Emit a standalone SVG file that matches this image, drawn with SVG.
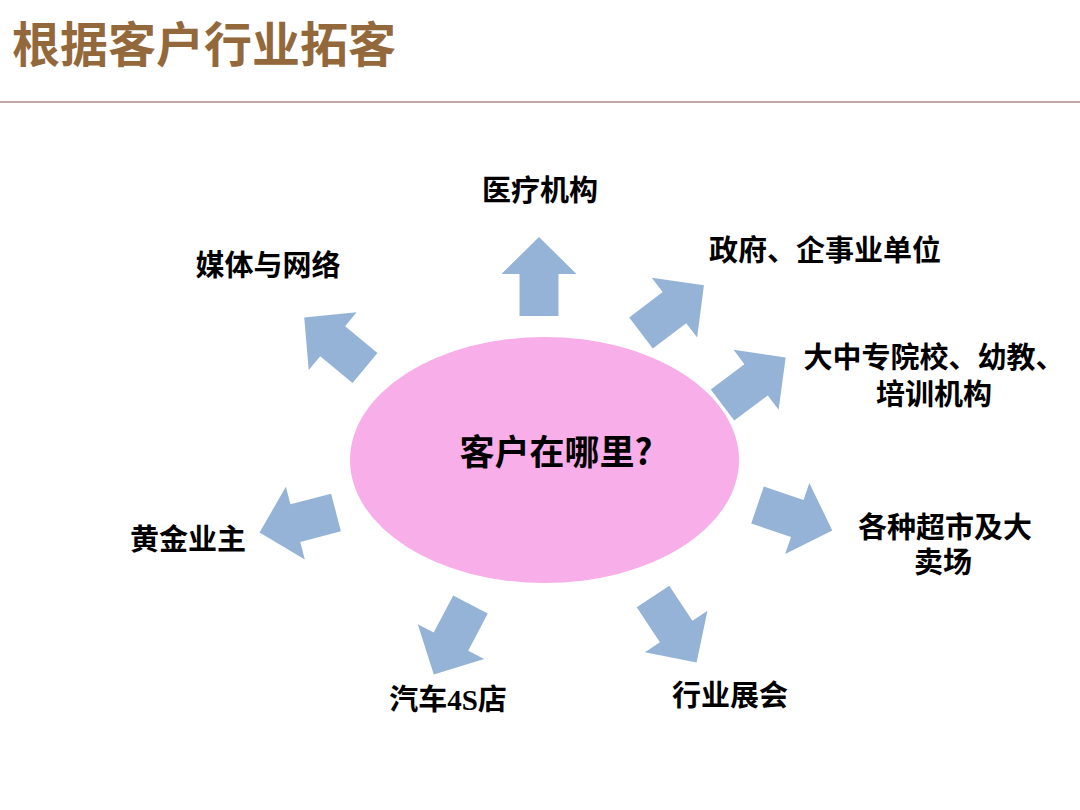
<svg xmlns="http://www.w3.org/2000/svg" xmlns:xlink="http://www.w3.org/1999/xlink" width="1080" height="810" viewBox="0 0 1080 810">
  <style>
    .lbl { font-family: "Liberation Sans", "Noto Sans CJK SC", sans-serif; font-weight: bold; font-size: 29px; fill: #000; }
    .lat { font-family: "Liberation Serif", serif; font-weight: bold; }
    .title { font-family: "Noto Sans CJK SC", "Noto Sans", sans-serif; font-weight: bold; font-size: 48px; fill: #93683A; }
    .center { font-family: "Liberation Sans", "Noto Sans CJK SC", sans-serif; font-weight: bold; font-size: 35px; fill: #000; }
    .cjk { font-family: "Noto Sans CJK SC", sans-serif; }
    .arr { fill: #95B3D7; }
  </style>
  <defs>
    <path id="arrow" d="M0,-19.5 H42 V-37.5 L79,0 L42,37.5 V19.5 H0 Z"/>
  </defs>
  <rect width="1080" height="810" fill="#FFFFFF"/>

  <g id="title">
    <text class="title" x="12" y="62">根据客户行业拓客</text>
    <line x1="0" y1="102" x2="1080" y2="102" stroke="#C4A6A6" stroke-width="2"/>
  </g>

  <g id="connectors" class="arr">
    <use xlink:href="#arrow" transform="translate(539,316) rotate(-90)"/>
    <use xlink:href="#arrow" transform="translate(641,333) rotate(-37.2)"/>
    <use xlink:href="#arrow" transform="translate(722.5,405) rotate(-36.9)"/>
    <use xlink:href="#arrow" transform="translate(365,368) rotate(-140.3)"/>
    <use xlink:href="#arrow" transform="translate(336,512.5) rotate(165.4)"/>
    <use xlink:href="#arrow" transform="translate(757.5,505) rotate(18.8)"/>
    <use xlink:href="#arrow" transform="translate(470.5,604.5) rotate(117.7)"/>
    <use xlink:href="#arrow" transform="translate(653,596.5) rotate(56.5)"/>
  </g>

  <g id="node-center">
    <ellipse cx="544.5" cy="460" rx="194.5" ry="123" fill="#F8AEE8"/>
    <text class="center" x="556" y="465" text-anchor="middle">客户在哪里<tspan class="cjk">?</tspan></text>
  </g>

  <g id="node-medical">
    <text class="lbl" x="540" y="201" text-anchor="middle">医疗机构</text>
  </g>
  <g id="node-media">
    <text class="lbl" x="268" y="276" text-anchor="middle">媒体与网络</text>
  </g>
  <g id="node-gov">
    <text class="lbl" x="709" y="261">政府、企事业单位</text>
  </g>
  <g id="node-school">
    <text class="lbl" text-anchor="middle"><tspan x="934" y="368">大中专院校、幼教、</tspan><tspan x="934" y="405">培训机构</tspan></text>
  </g>
  <g id="node-market">
    <text class="lbl" text-anchor="middle"><tspan x="945" y="538">各种超市及大</tspan><tspan x="943" y="573">卖场</tspan></text>
  </g>
  <g id="node-gold">
    <text class="lbl" x="188" y="550" text-anchor="middle">黄金业主</text>
  </g>
  <g id="node-car">
    <text class="lbl" x="448" y="710" text-anchor="middle">汽车<tspan class="lat">4S</tspan>店</text>
  </g>
  <g id="node-expo">
    <text class="lbl" x="730" y="706" text-anchor="middle">行业展会</text>
  </g>
</svg>
